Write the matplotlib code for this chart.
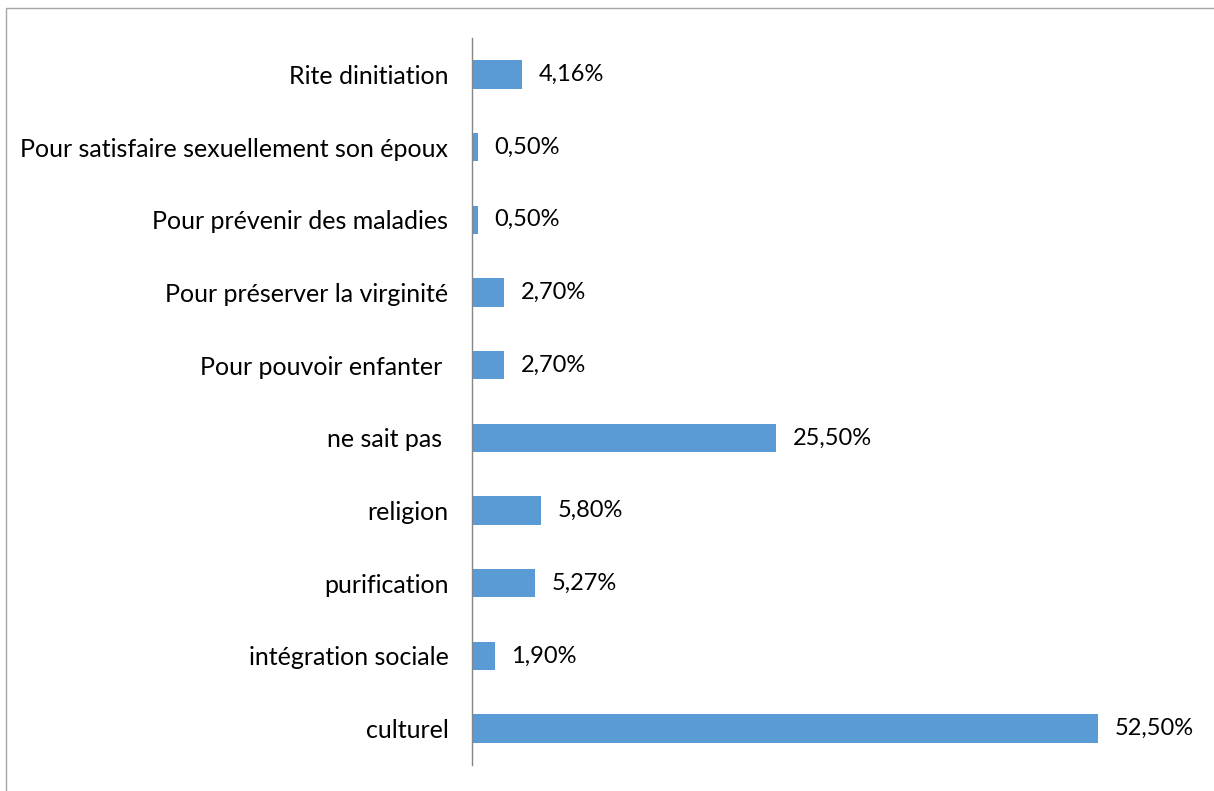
import matplotlib.pyplot as plt
from matplotlib.patches import Rectangle

categories = ["Rite dinitiation", "Pour satisfaire sexuellement son époux",
              "Pour prévenir des maladies", "Pour préserver la virginité",
              "Pour pouvoir enfanter ", "ne sait pas ", "religion",
              "purification", "intégration sociale", "culturel"]
values = [4.16, 0.50, 0.50, 2.70, 2.70, 25.50, 5.80, 5.27, 1.90, 52.50]
value_labels = ["4,16%", "0,50%", "0,50%", "2,70%", "2,70%", "25,50%",
                "5,80%", "5,27%", "1,90%", "52,50%"]

plt.rcParams['font.family'] = ['Lato', 'DejaVu Sans']

W, H = 1214, 791
fig = plt.figure(figsize=(W / 100, H / 100), dpi=100)

# outer chart frame (right and bottom edges fall outside the image)
fig.patches.append(Rectangle((6 / W, -0.1), 1.2, 1 - 8 / H + 0.1,
                             transform=fig.transFigure, fill=False,
                             edgecolor='#A6A6A6', linewidth=1.0))

# plot area in pixels: x 472..1098 covers 0..52.5, y 38..765
x0, x1 = 472, 1098
y0, y1 = 38, 765
ax = fig.add_axes([x0 / W, 1 - y1 / H, (x1 - x0) / W, (y1 - y0) / H])

ypos = list(range(len(categories)))
ax.barh(ypos, values, height=0.39, color='#5B9BD5')
ax.set_xlim(0, 52.5)
ax.set_ylim(len(categories) - 0.5, -0.5)

for y, v, lab in zip(ypos, values, value_labels):
    ax.annotate(lab, (v, y), xytext=(12, 0), textcoords='offset points',
                va='center', ha='left', fontsize=17, color='#000000')

ax.set_yticks(ypos)
ax.set_yticklabels(categories, fontsize=18)
ax.tick_params(axis='y', length=0, pad=17)
ax.set_xticks([])

for side in ['top', 'right', 'bottom']:
    ax.spines[side].set_visible(False)
ax.spines['left'].set_color('#868686')
ax.spines['left'].set_linewidth(1.0)

fig.savefig('out.png', dpi=100)
